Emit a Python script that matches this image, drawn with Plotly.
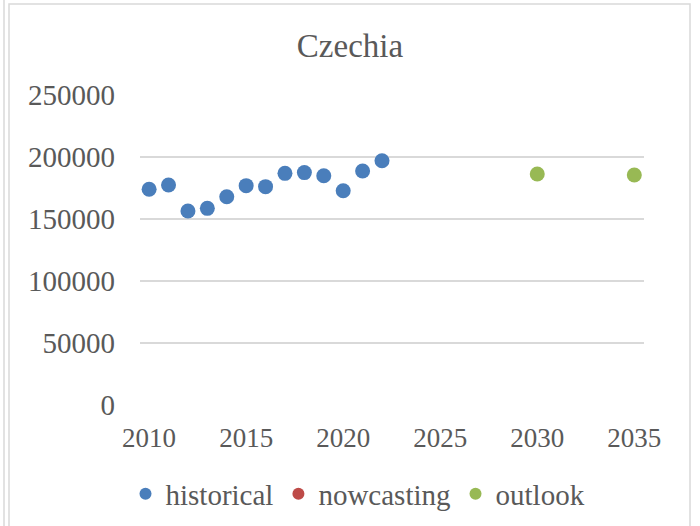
import plotly.graph_objects as go

hist_years = [2010, 2011, 2012, 2013, 2014, 2015, 2016, 2017, 2018, 2019, 2020, 2021, 2022]
hist_values = [174000, 177400, 156400, 158600, 168000, 176900, 176100, 186800, 187400, 184900, 172800, 188700, 197000]
now_years = []
now_values = []
out_years = [2030, 2035]
out_values = [186300, 185500]

y_ticks = [0, 50000, 100000, 150000, 200000, 250000]
y_tick_labels = ["0", "50000", "100000", "150000", "200000", "250000"]
x_ticks = [2010, 2015, 2020, 2025, 2030, 2035]

FONT = "Liberation Serif"
GRAY = "#595959"

fig = go.Figure()
fig.add_trace(go.Scatter(x=hist_years, y=hist_values, mode="markers", name="historical",
                         marker=dict(color="#4A7EBB", size=15)))
fig.add_trace(go.Scatter(x=now_years if now_years else [None], y=now_values if now_values else [None],
                         mode="markers", name="nowcasting",
                         marker=dict(color="#BE4B48", size=15)))
fig.add_trace(go.Scatter(x=out_years, y=out_values, mode="markers", name="outlook",
                         marker=dict(color="#98B954", size=15)))

L, R, T, B = 140, 56, 95, 121
W, H = 700, 526
pw, ph = W - L - R, H - T - B

def px(x):
    return (x - L) / pw

def py(y):
    return (H - B - y) / ph

fig.update_layout(
    width=W, height=H,
    margin=dict(l=L, r=R, t=T, b=B, autoexpand=False),
    paper_bgcolor="white", plot_bgcolor="white",
    font=dict(family=FONT, color=GRAY, size=27),
    title=dict(text="Czechia", x=0.5, xanchor="center", y=1 - 45 / H, yanchor="middle",
               font=dict(family=FONT, size=33, color=GRAY)),
    xaxis=dict(range=[2009.53, 2035.5], tickvals=x_ticks, showgrid=False, zeroline=False,
               showline=False, ticks="", ticklabelstandoff=14, automargin=False,
               tickfont=dict(family=FONT, size=27, color=GRAY)),
    yaxis=dict(range=[0, 250000], tickvals=y_ticks, ticktext=y_tick_labels, showgrid=True,
               gridcolor="#D9D9D9", gridwidth=1.5, zeroline=False, showline=False, ticks="",
               ticklabelstandoff=24, automargin=False,
               tickfont=dict(family=FONT, size=29, color=GRAY)),
    legend=dict(orientation="h", x=px(358), xanchor="center", y=py(494), yanchor="middle",
                font=dict(family=FONT, size=29, color=GRAY), itemsizing="constant",
                tracegroupgap=0, itemwidth=30, borderwidth=0),
    showlegend=True,
    shapes=[
        dict(type="rect", xref="paper", yref="paper", x0=px(9), x1=px(690), y0=py(620), y1=py(4),
             line=dict(color="#D9D9D9", width=1.5), layer="below"),
        dict(type="line", xref="paper", yref="paper", x0=px(4), x1=px(4), y0=py(620), y1=py(0),
             line=dict(color="#D9D9D9", width=1.5), layer="below"),
    ],
)

fig.write_html("out.html", config={"displayModeBar": False},
               post_script="document.body.style.margin='0';")
